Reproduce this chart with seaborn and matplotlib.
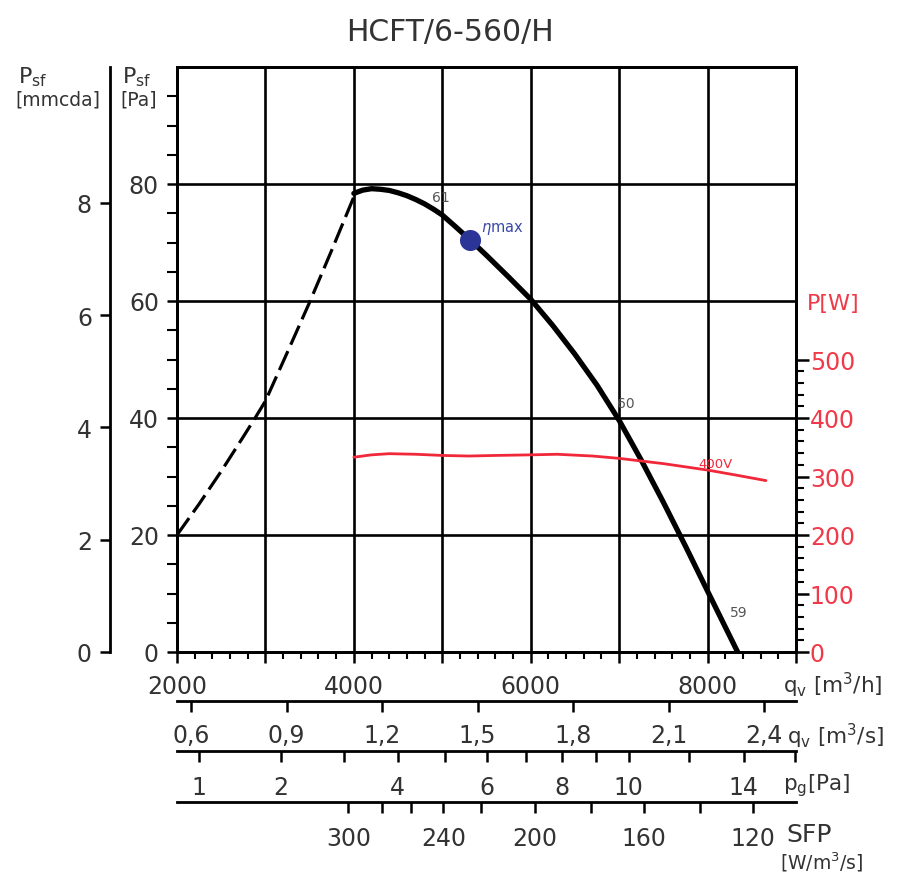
import numpy as np
import pandas as pd
import matplotlib
matplotlib.use("Agg")
import matplotlib.pyplot as plt
import seaborn as sns
from matplotlib.ticker import FixedLocator, FuncFormatter

# ---------------- data ----------------
title = "HCFT/6-560/H"

# unstable (stall) region, dashed
stall_flow = [2000, 2250, 2500, 2750, 2883, 3000, 3250, 3500, 3750, 4000]
stall_pres = [20.0, 25.3, 30.9, 36.8, 40.0, 42.9, 51.3, 59.8, 68.7, 77.8]

# fan curve (static pressure, Pa)
curve_flow = [4000, 4100, 4200, 4300, 4400, 4500, 4600, 4700, 4800, 4900, 5000,
              5150, 5318, 5500, 5750, 6000, 6250, 6500, 6750, 7000, 7250, 7500,
              7750, 8000, 8170, 8340]
curve_pres = [78.4, 78.95, 79.2, 79.1, 78.9, 78.5, 78.0, 77.35, 76.6, 75.7, 74.7,
              72.7, 70.4, 67.8, 64.1, 60.3, 55.8, 50.9, 45.6, 39.6, 32.8, 25.6,
              18.1, 10.4, 5.2, 0.0]

# absorbed power (W) at 400V
power_flow = [4000, 4200, 4400, 4700, 5000, 5300, 5600, 6000, 6300, 6700, 7000,
              7500, 8000, 8300, 8660]
power_w = [333, 337, 339, 338, 336, 335, 336, 337, 338, 335, 331, 322, 311, 303, 293]
power_label = "400V"

# efficiency point
eta_flow = [5318]
eta_pres = [70.4]

# efficiency labels along the curve
eff_text = ["61", "60", "59"]
eff_flow = [4980, 7080, 8350]
eff_pres = [77.8, 42.6, 6.8]

# scales
pa_ticks = [0, 20, 40, 60, 80]
mmcda_ticks = [0, 2, 4, 6, 8]
pa_per_mmcda = 9.6
power_ticks = [0, 100, 200, 300, 400, 500]
flow_ticks_labeled = [2000, 4000, 6000, 8000]
m3s_ticks = [0.6, 0.9, 1.2, 1.5, 1.8, 2.1, 2.4]
m3s_labels = ["0,6", "0,9", "1,2", "1,5", "1,8", "2,1", "2,4"]
pg_ticks = [1, 2, 3, 4, 5, 6, 7, 8, 9, 10, 12, 14, 16]
pg_labeled = [1, 2, 4, 6, 8, 10, 14]
pg_k = 1.98e-7  # pg = k * q^2 (q in m3/h)
sfp_ticks = [300, 280, 260, 240, 220, 200, 180, 160, 140, 120]
sfp_flow = [3937, 4322, 4650, 5012, 5443, 6043, 6677, 7277, 7912, 8512]
sfp_labeled = [300, 240, 200, 160, 120]

# ---------------- style ----------------
W_PX, H_PX = 902, 878
sns.set_theme(style="ticks")
plt.rcParams["font.family"] = ["DejaVu Sans"]
TXT = "#333333"
RED = "#f0283a"
RED_TXT = "#f03a4a"
BLUE = "#2a3597"
FS = 17

fig = plt.figure(figsize=(W_PX / 100, H_PX / 100), dpi=100)
fig.patch.set_facecolor("white")

L_PX, R_PX, T_PX, B_PX = 177, 796, 68, 653
def fx(x): return x / W_PX
def fy(y): return 1 - y / H_PX

ax = fig.add_axes([fx(L_PX), fy(B_PX), (R_PX - L_PX) / W_PX, (B_PX - T_PX) / H_PX])
ax.set_xlim(2000, 9000)
ax.set_ylim(0, 100)

stall_df = pd.DataFrame({"q": stall_flow, "p": stall_pres})
curve_df = pd.DataFrame({"q": curve_flow, "p": curve_pres})
sns.lineplot(data=stall_df, x="q", y="p", ax=ax, color="black", linewidth=2.3,
             linestyle=(0, (6.5, 2.2)), sort=False, zorder=4)
sns.lineplot(data=curve_df, x="q", y="p", ax=ax, color="black", linewidth=3.8,
             sort=False, zorder=5)
sns.scatterplot(x=eta_flow, y=eta_pres, ax=ax, color=BLUE, s=230, edgecolor=BLUE,
                linewidth=0, zorder=6)
ax.text(5440, 72.4, r"$\eta$max", color="#3a48a8", fontsize=10.5,
        ha="left", va="center", zorder=7)
for t, q, p in zip(eff_text, eff_flow, eff_pres):
    ax.text(q, p, t, fontsize=10, color="#555555", ha="center", va="center", zorder=7)

ax.set_xlim(2000, 9000)
ax.set_ylim(0, 100)
ax.set_xlabel("")
ax.set_ylabel("")
for s in ax.spines.values():
    s.set_linewidth(2)
    s.set_color("black")
ax.xaxis.set_major_locator(FixedLocator(list(range(2000, 9001, 1000))))
ax.xaxis.set_minor_locator(FixedLocator([v for v in range(2000, 9001, 200) if v % 1000]))
ax.xaxis.set_major_formatter(FuncFormatter(lambda v, p: f"{int(round(v))}" if int(round(v)) in flow_ticks_labeled else ""))
ax.yaxis.set_major_locator(FixedLocator(pa_ticks))
ax.yaxis.set_minor_locator(FixedLocator([v for v in range(5, 100, 5) if v % 20]))
ax.tick_params(axis="x", which="major", direction="out", length=8, width=1.8, pad=8,
               labelsize=FS, labelcolor=TXT, color="black")
ax.tick_params(axis="x", which="minor", direction="out", length=5, width=1.5, color="black")
ax.tick_params(axis="y", which="major", direction="out", length=7, width=1.8, pad=6,
               labelsize=FS, labelcolor=TXT, color="black")
ax.tick_params(axis="y", which="minor", direction="out", length=7, width=1.5, color="black")
ax.grid(True, which="major", color="black", linewidth=1.9)

# right power axis
ax2 = ax.twinx()
power_df = pd.DataFrame({"q": power_flow, "P": power_w})
sns.lineplot(data=power_df, x="q", y="P", ax=ax2, color=RED, linewidth=2.0, sort=False)
ax2.text(7900, 323, power_label, color=RED, fontsize=9.5, ha="left", va="center")
ax2.set_ylim(0, 1000)
ax2.set_ylabel("")
ax2.set_xlabel("")
ax2.grid(False)
for s in ax2.spines.values():
    s.set_linewidth(2)
    s.set_color("black")
ax2.yaxis.set_major_locator(FixedLocator(power_ticks))
ax2.yaxis.set_minor_locator(FixedLocator([v for v in range(20, 500, 20) if v % 100]))
ax2.tick_params(axis="y", which="major", direction="out", length=9, width=1.8, pad=1,
                labelsize=FS, labelcolor=RED_TXT, color="black")
ax2.tick_params(axis="y", which="minor", direction="out", length=6, width=1.5, color="black")

# mmcda axis
axm = fig.add_axes([fx(110), fy(B_PX), 0.0005, (B_PX - T_PX) / H_PX])
axm.set_ylim(0, 100 / pa_per_mmcda)
axm.patch.set_visible(False)
for s in ["right", "top", "bottom"]:
    axm.spines[s].set_visible(False)
axm.spines["left"].set_linewidth(2)
axm.spines["left"].set_color("black")
axm.set_xticks([])
axm.yaxis.set_major_locator(FixedLocator(mmcda_ticks))
axm.tick_params(axis="y", direction="out", length=7, width=1.8, pad=6,
                labelsize=FS, labelcolor=TXT, color="black")

# extra flow scales under the chart
def strip(y_px, ticks_q, labels, pad):
    a = fig.add_axes([fx(L_PX), fy(y_px), (R_PX - L_PX) / W_PX, 1e-5])
    a.set_xlim(2000, 9000)
    a.set_ylim(0, 1)
    a.patch.set_visible(False)
    for s in ["left", "right", "top"]:
        a.spines[s].set_visible(False)
    a.spines["bottom"].set_linewidth(2)
    a.spines["bottom"].set_color("black")
    a.set_yticks([])
    a.xaxis.set_major_locator(FixedLocator(ticks_q))
    a.set_xticklabels(labels)
    a.tick_params(axis="x", direction="out", length=8, width=1.8, pad=pad,
                  labelsize=FS, labelcolor=TXT, color="black")
    return a

strip(702, [v * 3600 for v in m3s_ticks], m3s_labels, 8)
strip(752, [np.sqrt(v / pg_k) for v in pg_ticks],
      [str(v) if v in pg_labeled else "" for v in pg_ticks], 9)
strip(803, sfp_flow, [str(v) if v in sfp_labeled else "" for v in sfp_ticks], 9)

# axis titles
fig.text(fx(450), fy(33), title, ha="center", va="center", fontsize=21.5, color=TXT)
fig.text(fx(18), fy(77), r"P$_{\mathrm{sf}}$", ha="left", va="center", fontsize=16, color=TXT)
fig.text(fx(15), fy(100), "[mmcda]", ha="left", va="center", fontsize=13.5, color=TXT)
fig.text(fx(122), fy(77), r"P$_{\mathrm{sf}}$", ha="left", va="center", fontsize=16, color=TXT)
fig.text(fx(120), fy(100), "[Pa]", ha="left", va="center", fontsize=13.5, color=TXT)
fig.text(fx(807), fy(304), "P[W]", ha="left", va="center", fontsize=16, color=RED_TXT)
fig.text(fx(783), fy(685), r"q$_{\mathrm{v}}$ [m$^3$/h]", ha="left", va="center", fontsize=15.5, color=TXT)
fig.text(fx(787), fy(736), r"q$_{\mathrm{v}}$ [m$^3$/s]", ha="left", va="center", fontsize=15.5, color=TXT)
fig.text(fx(783), fy(786), r"p$_{\mathrm{g}}$[Pa]", ha="left", va="center", fontsize=15.5, color=TXT)
fig.text(fx(786), fy(835), "SFP", ha="left", va="center", fontsize=18, color=TXT)
fig.text(fx(780), fy(862), r"[W/m$^3$/s]", ha="left", va="center", fontsize=13.5, color=TXT)

fig.savefig("out.png", dpi=100, facecolor="white")
